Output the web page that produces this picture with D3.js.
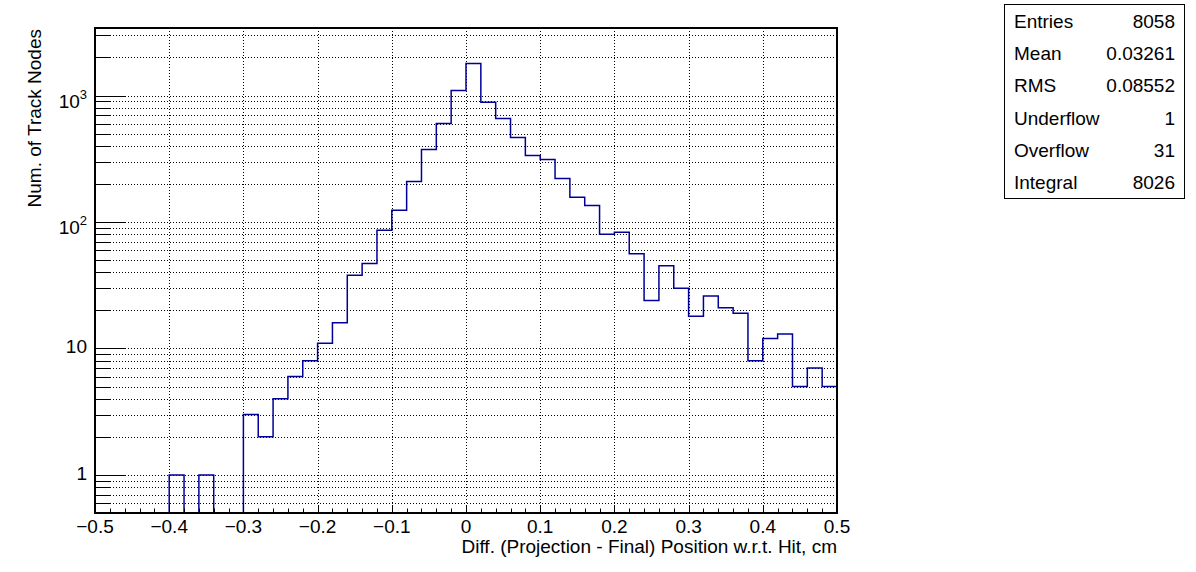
<!DOCTYPE html>
<html>
<head>
<meta charset="utf-8">
<script src="https://cdn.jsdelivr.net/npm/d3@7"></script>
<style>
  html, body { margin: 0; padding: 0; background: #fff; }
  svg { display: block; }
  text { font-family: "Liberation Sans", Arial, Helvetica, sans-serif; fill: #000; }
</style>
</head>
<body>
<svg id="chart" width="1196" height="572"></svg>
<script>
// ---- Data ----
const binLowEdges = d3.range(50).map(i => +(-0.5 + 0.02 * i).toFixed(2));
const binWidth = 0.02;
const counts = [
  0, 0, 0, 0, 0,          // -0.50 .. -0.40
  1, 0, 1, 0, 0,          // -0.40 .. -0.30
  3, 2, 4, 6, 8,          // -0.30 .. -0.20
  11, 16, 38, 47, 86,     // -0.20 .. -0.10
  124, 209, 375, 601, 1095, // -0.10 .. 0
  1790, 885, 658, 466, 336, // 0 .. 0.10
  312, 221, 157, 135, 80, // 0.10 .. 0.20
  83, 56, 24, 45, 30,     // 0.20 .. 0.30
  18, 26, 21, 19, 8,      // 0.30 .. 0.40
  12, 13, 5, 7, 5         // 0.40 .. 0.50
];
const xTickValues = [-0.5, -0.4, -0.3, -0.2, -0.1, 0, 0.1, 0.2, 0.3, 0.4, 0.5];
const xTickLabels = ["\u22120.5", "\u22120.4", "\u22120.3", "\u22120.2", "\u22120.1", "0", "0.1", "0.2", "0.3", "0.4", "0.5"];
const yMajorTicks = [1, 10, 100, 1000];
const yMajorLabels = [["1", null], ["10", null], ["10", "2"], ["10", "3"]];
const statsNames = ["Entries", "Mean", "RMS", "Underflow", "Overflow", "Integral"];
const statsValues = ["8058", "0.03261", "0.08552", "1", "31", "8026"];
const xTitle = "Diff. (Projection - Final) Position w.r.t. Hit, cm";
const yTitle = "Num. of Track Nodes";

// ---- Layout ----
const L = 95, R = 837, T = 28, B = 513;
const svg = d3.select("#chart");
const x = d3.scaleLinear().domain([-0.5, 0.5]).range([L, R]);
const yMin = 0.5, yMax = 3420;
const y = d3.scaleLog().domain([yMin, yMax]).range([B, T]);

// minor tick values for log axis
const yAllTicks = [];
[0.1, 1, 10, 100, 1000].forEach(d => {
  for (let k = 1; k <= 9; k++) {
    const v = +(k * d).toPrecision(3);
    if (v > yMin && v <= yMax) yAllTicks.push(v);
  }
});

// ---- Grid ----
const grid = svg.append("g").attr("stroke", "#000").attr("stroke-width", 1).attr("stroke-dasharray", "1,2");
grid.selectAll("line.gx").data(xTickValues.filter(v => v > -0.5 && v < 0.5)).join("line")
  .attr("x1", d => Math.round(x(d)) + 0.5).attr("x2", d => Math.round(x(d)) + 0.5)
  .attr("y1", T).attr("y2", B);
grid.selectAll("line.gy").data(yAllTicks).join("line")
  .attr("x1", L).attr("x2", R)
  .attr("y1", d => Math.round(y(d)) + 0.5).attr("y2", d => Math.round(y(d)) + 0.5);

// ---- Histogram ----
let path = `M${x(-0.5)},${B}`;
counts.forEach((c, i) => {
  const yy = c > yMin ? y(c) : B;
  path += `V${yy}H${x(binLowEdges[i] + binWidth)}`;
});
svg.append("path").attr("d", path).attr("fill", "none")
  .attr("stroke", "#000099").attr("stroke-width", 1.5);

// ---- Axes ticks ----
const ticks = svg.append("g").attr("stroke", "#000").attr("stroke-width", 1);
const xMinor = d3.range(0, 51).map(i => +(-0.5 + 0.02 * i).toFixed(2));
ticks.selectAll("line.xt").data(xMinor).join("line")
  .attr("x1", d => Math.round(x(d)) + 0.5).attr("x2", d => Math.round(x(d)) + 0.5)
  .attr("y1", B).attr("y2", d => B - (xTickValues.some(v => Math.abs(v - d) < 1e-9) ? 8 : 4.5));
ticks.selectAll("line.yt").data(yAllTicks).join("line")
  .attr("x1", L).attr("x2", d => L + (yMajorTicks.includes(d) ? 31 : 15.5))
  .attr("y1", d => Math.round(y(d)) + 0.5).attr("y2", d => Math.round(y(d)) + 0.5);

// ---- Frame ----
svg.append("rect").attr("x", L).attr("y", T).attr("width", R - L).attr("height", B - T)
  .attr("fill", "none").attr("stroke", "#000").attr("stroke-width", 2);

// ---- Tick labels ----
const FS = 19;
svg.append("g").selectAll("text").data(xTickValues).join("text")
  .attr("x", d => x(d)).attr("y", 533).attr("text-anchor", "middle")
  .attr("font-size", FS).text((d, i) => xTickLabels[i]);

const yl = svg.append("g").selectAll("text").data(yMajorTicks).join("text")
  .attr("x", 87).attr("text-anchor", "end").attr("font-size", FS)
  .attr("y", (d, i) => y(d) + (yMajorLabels[i][1] ? 12 : 4.7));
yl.each(function(d, i) {
  const t = d3.select(this);
  t.append("tspan").text(yMajorLabels[i][0]);
  if (yMajorLabels[i][1]) {
    t.append("tspan").attr("dy", -9).attr("font-size", 13).text(yMajorLabels[i][1]);
  }
});

// ---- Axis titles ----
svg.append("text").attr("x", R).attr("y", 553).attr("text-anchor", "end")
  .attr("font-size", FS).text(xTitle);
svg.append("text").attr("transform", `translate(41,${T + 1}) rotate(-90)`)
  .attr("text-anchor", "end").attr("font-size", FS).text(yTitle);

// ---- Stats box ----
svg.append("rect").attr("x", 1004.5).attr("y", 4.5).attr("width", 180).attr("height", 194)
  .attr("fill", "#fff").attr("stroke", "#000").attr("stroke-width", 1);
const rowY = d3.scaleLinear().domain([0, statsNames.length - 1]).range([28, 189]);
const sg = svg.append("g");
sg.selectAll("text.n").data(statsNames).join("text")
  .attr("x", 1014).attr("y", (d, i) => rowY(i)).attr("font-size", FS).text(d => d);
sg.selectAll("text.v").data(statsValues).join("text")
  .attr("x", 1175).attr("y", (d, i) => rowY(i)).attr("text-anchor", "end")
  .attr("font-size", FS).text(d => d);
</script>
</body>
</html>
